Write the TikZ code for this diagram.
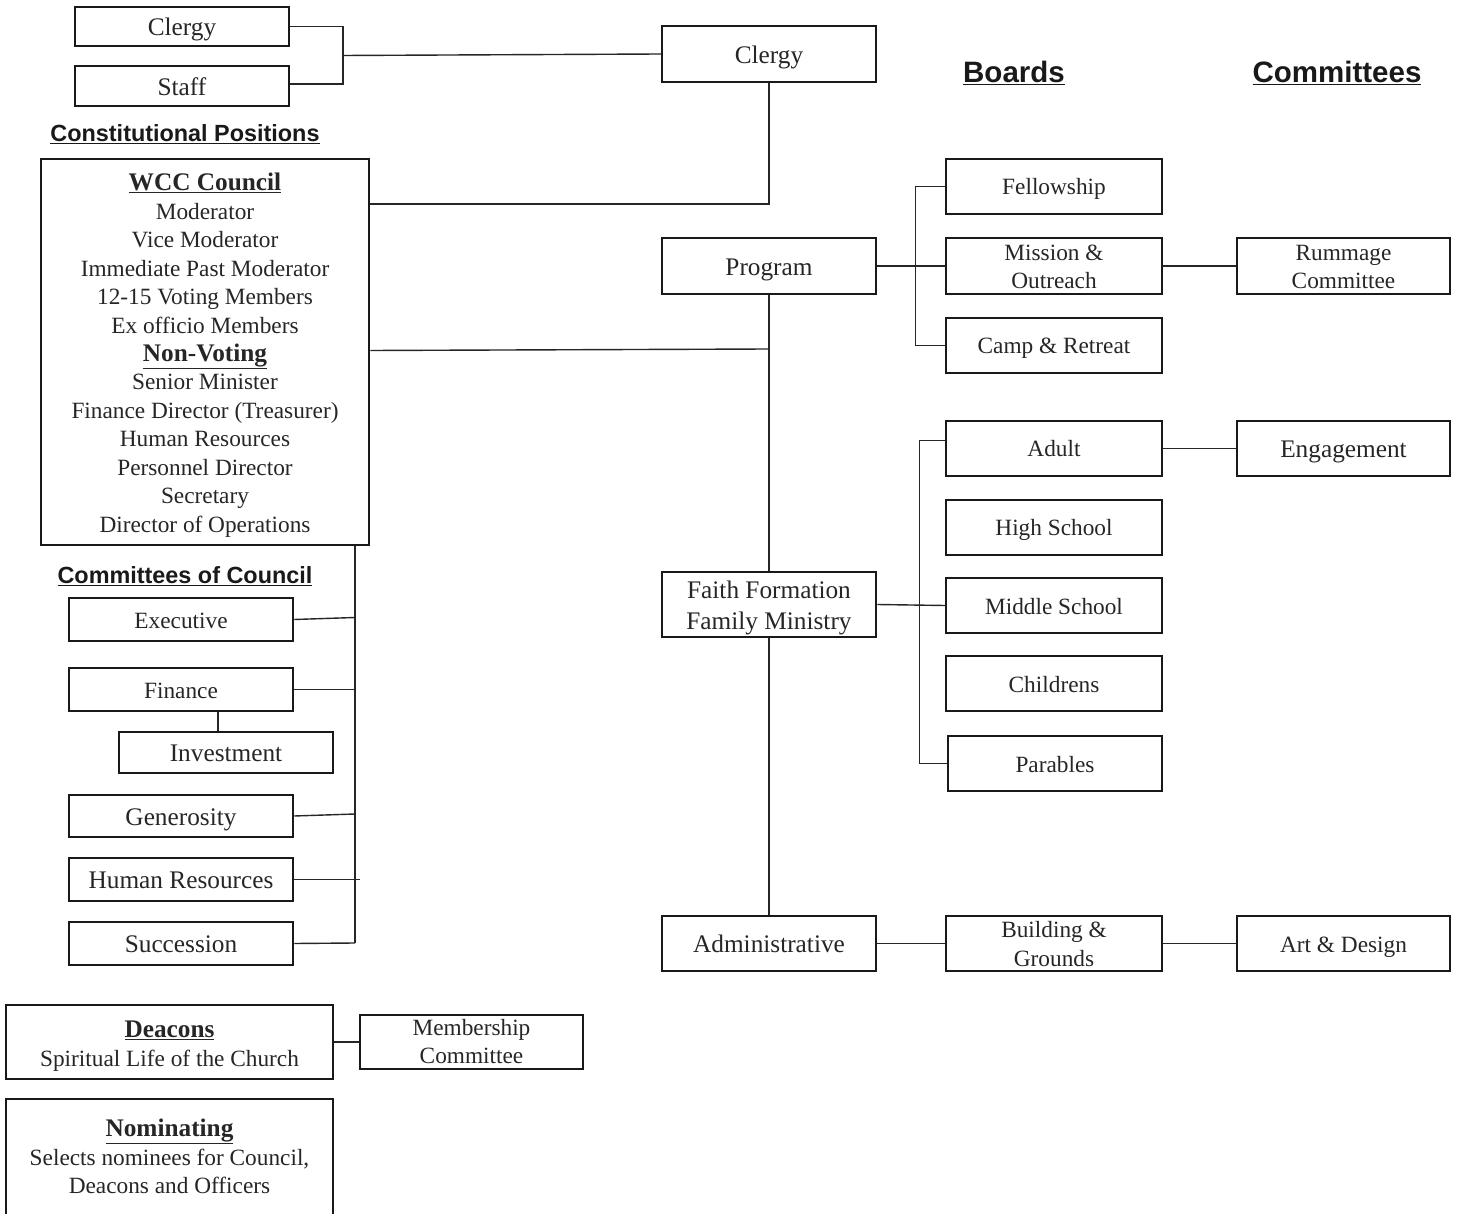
\documentclass[tikz,border=0pt]{standalone}
\usepackage{fontspec}
\setmainfont{Liberation Serif}
\newfontfamily\hdfam{Liberation Sans}
\newcommand{\smf}{\fontsize{23.3}{28.5}\selectfont}
\newcommand{\bgf}{\fontsize{25.3}{31}\selectfont}
\newcommand{\ttl}{\fontsize{25.3}{28.5}\selectfont\bfseries}
\newcommand{\sstr}{\rule[-6pt]{0pt}{29pt}}
\newcommand{\bstr}{\rule[-6.5pt]{0pt}{31.5pt}}
\begin{document}
\begin{tikzpicture}[x=1pt,y=-1pt,
  box/.style={draw=black!90, line width=2.5pt, inner sep=0pt, align=center, text=black!85, font=\smf,
    execute at begin node=\sstr, execute at end node=\sstr},
  bbox/.style={box, font=\bgf, execute at begin node=\bstr, execute at end node=\bstr},
  mbox/.style={box, execute at begin node={}, execute at end node={}, text depth=0pt, text height=#1},
  mbbox/.style={mbox=#1, font=\bgf},
  link/.style={line width=1.4pt, draw=black!85},
  hdg/.style={inner sep=0pt, text=black!90, font=\hdfam\bfseries}]
\useasboundingbox (0,0) rectangle (1460,1214);
\clip (0,0) rectangle (1460,1214);
\fill[white] (0,0) rectangle (1460,1214);

% headings
\node[hdg, font=\hdfam\bfseries\fontsize{29.5}{34}\selectfont] (hboards) at (1014,73) {\underline{Boards}};
\node[hdg, font=\hdfam\bfseries\fontsize{29.5}{34}\selectfont] (hcomm) at (1337,73) {\underline{Committees}};
\node[hdg, font=\hdfam\bfseries\fontsize{23.4}{27}\selectfont] (hconst) at (185,134) {\underline{Constitutional Positions}};
\node[hdg, font=\hdfam\bfseries\fontsize{23.4}{27}\selectfont] (hcoc) at (185,576) {\underline{Committees of Council}};

% top-left
\node[bbox, minimum width=214pt, minimum height=39pt] (c1) at (182,26.5) {Clergy};
\node[bbox, minimum width=214pt, minimum height=40pt] (st) at (182,86) {Staff};

% central column
\node[bbox, minimum width=214pt, minimum height=56pt] (cl) at (769,54) {Clergy};
\node[bbox, minimum width=214pt, minimum height=56pt] (prog) at (769,266) {Program};
\node[mbbox=49pt, minimum width=214pt, minimum height=65pt] (ff) at (769,604.5) {Faith Formation\\Family Ministry};
\node[bbox, minimum width=214pt, minimum height=55pt] (adm) at (769,943.5) {Administrative};

% boards
\node[box, minimum width=216pt, minimum height=55pt] (fel) at (1054,186.5) {Fellowship};
\node[mbox=45.5pt, minimum width=216pt, minimum height=56pt] (mis) at (1054,266) {Mission \&\\Outreach};
\node[box, minimum width=216pt, minimum height=55pt] (camp) at (1054,345.5) {Camp \& Retreat};
\node[box, minimum width=216pt, minimum height=55pt] (adu) at (1054,448.5) {Adult};
\node[box, minimum width=216pt, minimum height=55pt] (hs) at (1054,527.5) {High School};
\node[box, minimum width=216pt, minimum height=55pt] (mid) at (1054,605.5) {Middle School};
\node[box, minimum width=216pt, minimum height=55pt] (chi) at (1054,683.5) {Childrens};
\node[box, minimum width=214pt, minimum height=55pt] (par) at (1055,763.5) {Parables};
\node[mbox=45.5pt, minimum width=216pt, minimum height=55pt] (bg) at (1054,943.5) {Building \&\\Grounds};

% committees
\node[mbox=45.5pt, minimum width=213pt, minimum height=56pt] (rum) at (1343.5,266) {Rummage\\Committee};
\node[bbox, minimum width=213pt, minimum height=55pt] (eng) at (1343.5,448.5) {Engagement};
\node[box, minimum width=213pt, minimum height=55pt] (art) at (1343.5,943.5) {Art \& Design};

% council
\node[mbox=361pt, minimum width=328pt, minimum height=386pt] (wcc) at (205,352) {{\ttl\underline{WCC Council}}\\Moderator\\Vice Moderator\\Immediate Past Moderator\\12-15 Voting Members\\Ex officio Members\\{\ttl\underline{Non-Voting}}\\Senior Minister\\Finance Director (Treasurer)\\Human Resources\\Personnel Director\\Secretary\\Director of Operations};

\node[box, minimum width=224pt, minimum height=43pt] (exe) at (181,619.5) {Executive};
\node[box, minimum width=224pt, minimum height=43pt] (fin) at (181,689.5) {Finance};
\node[bbox, minimum width=214pt, minimum height=41pt] (inv) at (226,752.5) {Investment};
\node[bbox, minimum width=224pt, minimum height=42pt] (gen) at (181,816) {Generosity};
\node[bbox, minimum width=224pt, minimum height=43pt] (hr) at (181,879.5) {Human Resources};
\node[bbox, minimum width=224pt, minimum height=43pt] (suc) at (181,943.5) {Succession};

\node[mbox=48pt, minimum width=327pt, minimum height=74pt] (dea) at (169.5,1042) {{\ttl\underline{Deacons}}\\Spiritual Life of the Church};
\node[mbox=43pt, minimum width=223pt, minimum height=54pt] (mem) at (471.5,1042) {Membership\\Committee};
\node[mbox=71pt, minimum width=327pt, minimum height=118pt] (nom) at (169.5,1158) {{\ttl\underline{Nominating}}\\Selects nominees for Council,\\Deacons and Officers};

% connectors
\coordinate (bx) at (343,55.5);
\draw[link] (c1.east) -| (bx);
\draw[link] ([yshift=2pt]st.east) -| (bx);
\draw[link] (bx) -- (cl.west);

\coordinate (wj) at (cl.south |- 0,204);
\draw[link] (wcc.east |- wj) -- (wj) -- (cl.south);
\coordinate (tj) at (prog.south |- 0,349);
\draw[link] ([yshift=-1.5pt]wcc.east |- tj) -- (tj);
\draw[link] (prog.south) -- (ff.north);
\draw[link] (ff.south) -- (adm.north);

\draw[link] (prog.east) -- (mis.west);
\draw[link] (fel.west) -- ++(-29,0) |- (camp.west);
\draw[link] (mis.east) -- (rum.west);

\draw[link] (ff.east) -- (mid.west);
\draw[link] ([yshift=8pt]adu.west) -- ++(-25,0) |- (par.west);
\draw[link] (adu.east) -- (eng.west);

\draw[link] (adm.east) -- (bg.west);
\draw[link] (bg.east) -- (art.west);

\coordinate (ct) at (355,0);
\coordinate (cb) at (355,943);
\draw[link] (ct |- wcc.south) -- (cb);
\draw[link] (exe.east) -- ([yshift=2pt]exe.east -| ct);
\draw[link] (fin.east) -- (fin.east -| ct);
\draw[link] (gen.east) -- ([yshift=2pt]gen.east -| ct);
\draw[link] (hr.east) -- ([xshift=5pt]hr.east -| ct);
\draw[link] (suc.east) -- (cb);
\draw[link] ([xshift=37pt]fin.south) -- ([xshift=37pt]fin.south |- inv.north);

\draw[link] (dea.east) -- (mem.west);
\end{tikzpicture}
\end{document}
